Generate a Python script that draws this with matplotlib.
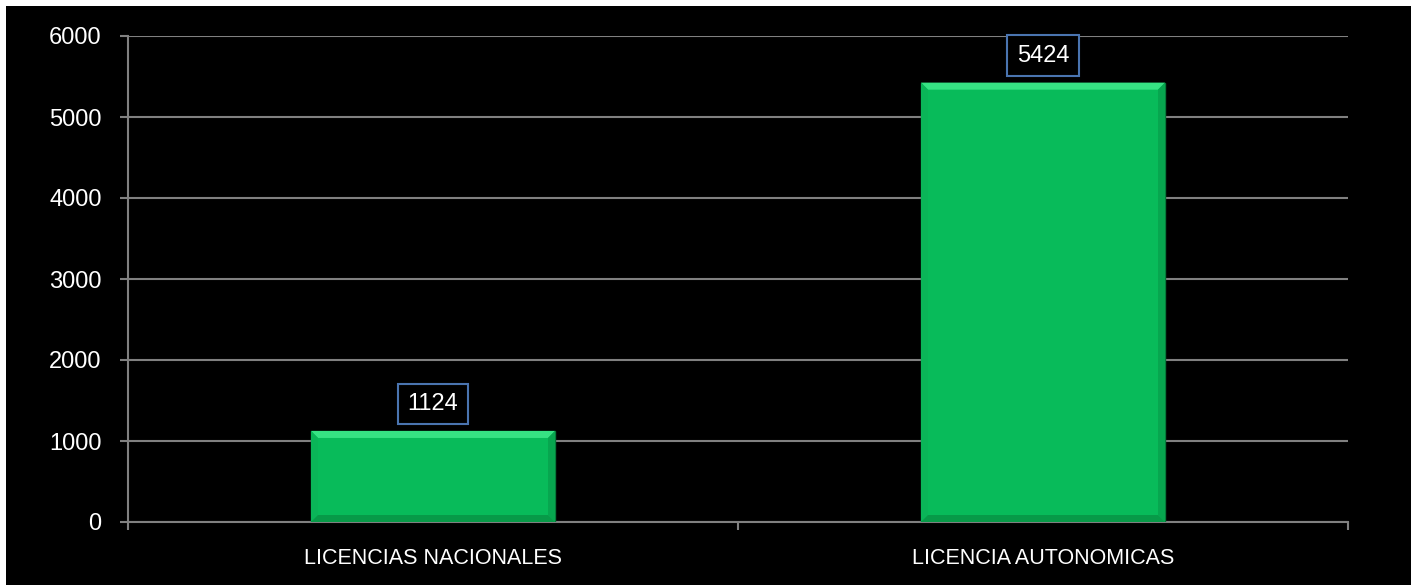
import matplotlib
matplotlib.use('Agg')
from matplotlib import pyplot as plt
from matplotlib.patches import Rectangle, Polygon
import numpy as np

# data
categories = ['LICENCIAS NACIONALES', 'LICENCIA AUTONOMICAS']
values = [1124, 5424]
y_ticks = [0, 1000, 2000, 3000, 4000, 5000, 6000]

W, H = 1415, 585
fig = plt.figure(figsize=(W / 100, H / 100), dpi=100, facecolor='white')
# black panel inside a thin white frame
fig.patches.append(Rectangle((6 / W, 0), (1411 - 6) / W, (H - 6) / H, transform=fig.transFigure,
                             facecolor='black', edgecolor='none', zorder=-10))

ax = fig.add_axes([128 / W, (H - 522) / H, 1220 / W, 486 / H])
ax.set_facecolor('black')
grid_c = '#808080'
font = 'Liberation Sans'

x = np.arange(len(categories))
bars = ax.bar(x, values, width=0.4, color='#08bb5a', edgecolor='#067a3a', linewidth=1.0, zorder=3)

ax.set_xlim(-0.5, len(categories) - 0.5)
ax.set_ylim(0, 6000)
ax.set_yticks(y_ticks)
ax.set_yticklabels([str(v) for v in y_ticks], fontsize=17, color='white', family=font)
ax.yaxis.grid(True, color=grid_c, linewidth=1.5, zorder=1)
ax.tick_params(axis='y', length=6, width=1.5, color=grid_c, pad=13)

ax.set_xticks(np.arange(-0.5, len(categories)))
ax.set_xticklabels([])
ax.set_xticks(x, minor=True)
ax.set_xticklabels(categories, minor=True, fontsize=15.5, color='white', family=font)
ax.tick_params(axis='x', which='major', length=6, width=1.5, color=grid_c)
ax.tick_params(axis='x', which='minor', length=0, pad=19)

for s in ['top', 'right']:
    ax.spines[s].set_visible(False)
for s in ['left', 'bottom']:
    ax.spines[s].set_color(grid_c)
    ax.spines[s].set_linewidth(1.5)

# soft bevel on each bar
fig.canvas.draw()
to_data = ax.transData.inverted()
for b in bars:
    x0, y0 = ax.transData.transform((b.get_x(), b.get_y()))
    x1, y1 = ax.transData.transform((b.get_x() + b.get_width(), b.get_height()))
    d = 7
    faces = [
        ([(x0, y1), (x1, y1), (x1 - d, y1 - d), (x0 + d, y1 - d)], '#36e283'),
        ([(x0, y1), (x0 + d, y1 - d), (x0 + d, y0 + d), (x0, y0)], '#0ab558'),
        ([(x1, y1), (x1 - d, y1 - d), (x1 - d, y0 + d), (x1, y0)], '#07a64f'),
        ([(x0, y0), (x0 + d, y0 + d), (x1 - d, y0 + d), (x1, y0)], '#079a48'),
    ]
    for pts, c in faces:
        ax.add_patch(Polygon([to_data.transform(p) for p in pts], closed=True, facecolor=c,
                             edgecolor='none', zorder=4))

for xi, v in zip(x, values):
    ax.annotate(str(v), (xi, v), xytext=(0, 27), textcoords='offset pixels', ha='center', va='center',
                fontsize=17, color='white', family=font, zorder=5,
                bbox=dict(boxstyle='square,pad=0.4', facecolor='black', edgecolor='#4a74b0', linewidth=1.5))

fig.savefig('out.png', dpi=100, facecolor=fig.get_facecolor())
